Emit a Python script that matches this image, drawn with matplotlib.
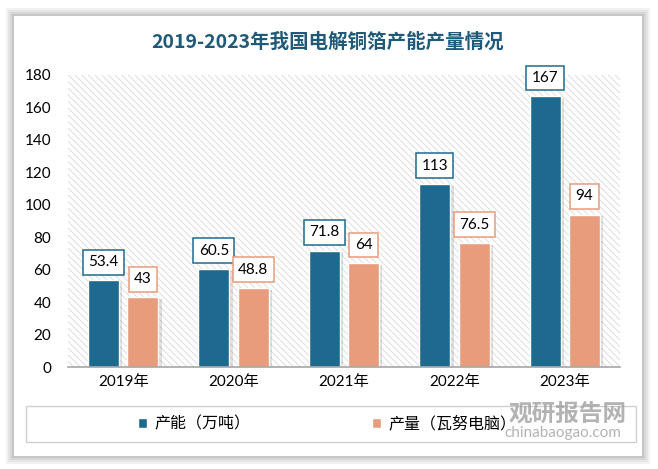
import numpy as np
import matplotlib
matplotlib.use("Agg")
import matplotlib.pyplot as plt
from matplotlib.patches import Rectangle

plt.rcParams['font.family'] = ['Lato', 'Noto Sans CJK SC', 'DejaVu Sans']
plt.rcParams['hatch.linewidth'] = 0.6

years = ["2019年", "2020年", "2021年", "2022年", "2023年"]
capacity = [53.4, 60.5, 71.8, 113, 167]
output = [43, 48.8, 64, 76.5, 94]
cap_labels = ["53.4", "60.5", "71.8", "113", "167"]
out_labels = ["43", "48.8", "64", "76.5", "94"]
series_names = ["产能（万吨）", "产量（瓦努电脑）"]

blue = "#1d6a8e"
orange = "#e79c7c"

fig = plt.figure(figsize=(6.58, 4.69), dpi=100)
fig.patch.set_facecolor("white")

# card with soft shadow
for i, a in enumerate([0.05, 0.05, 0.06, 0.08]):
    pad = (4 - i) * 2
    fig.patches.append(Rectangle(((14 - pad) / 658, 1 - (456 + pad) / 469),
                                 (628 + 2 * pad) / 658, (440 + 2 * pad) / 469,
                                 transform=fig.transFigure, facecolor="black",
                                 edgecolor="none", alpha=a, zorder=-3))
fig.patches.append(Rectangle((14 / 658, 1 - 456 / 469), 628 / 658, 440 / 469,
                             transform=fig.transFigure, facecolor="white",
                             edgecolor="none", zorder=-2))

ax = fig.add_axes([68 / 658, 102 / 469, 552 / 658, 292 / 469])
ax.set_zorder(1)
ax.set_facecolor("none")
ax.add_patch(Rectangle((0, 0), 1, 1, transform=ax.transAxes, facecolor="white",
                       edgecolor="#d8d8d8", hatch="\\\\\\\\\\", linewidth=0, zorder=0))

x = np.arange(len(years))
w = 0.28
off = 0.178

# shadows
ax.bar(x - off + 0.03, capacity, w, bottom=-1.2, color="black", alpha=0.12, zorder=1)
ax.bar(x + off + 0.03, output, w, bottom=-1.2, color="black", alpha=0.12, zorder=1)

ax.bar(x - off, capacity, w, color=blue, edgecolor="white", linewidth=1, zorder=2, label=series_names[0])
ax.bar(x + off, output, w, color=orange, edgecolor="white", linewidth=1, zorder=2, label=series_names[1])

for xi, v, t in zip(x, capacity, cap_labels):
    ax.annotate(t, (xi - off, v), xytext=(0, 13), textcoords="offset points",
                ha="center", va="center", fontsize=11, color="black", zorder=5,
                bbox=dict(boxstyle="square,pad=0.35", fc="white", ec=blue, lw=1.1))
for xi, v, t in zip(x, output, out_labels):
    ax.annotate(t, (xi + off, v), xytext=(0, 13), textcoords="offset points",
                ha="center", va="center", fontsize=11, color="black", zorder=5,
                bbox=dict(boxstyle="square,pad=0.35", fc="white", ec=orange, lw=1.1))

ax.set_xlim(-0.5, 4.5)
ax.set_ylim(0, 180)
ax.set_yticks(np.arange(0, 181, 20))
ax.set_xticks(x)
ax.set_xticklabels(years)
ax.tick_params(axis="y", length=0, pad=12, labelsize=11)
ax.tick_params(axis="x", length=0, pad=6, labelsize=11)
for s in ["top", "right", "left"]:
    ax.spines[s].set_visible(False)
ax.spines["bottom"].set_color("#a6a6a6")
ax.spines["bottom"].set_linewidth(1.2)

fig.text(328 / 658, 1 - 42 / 469, "2019-2023年我国电解铜箔产能产量情况", ha="center", va="center",
         fontsize=14, color="#1f5a78", fontweight="bold",
         family=["Noto Sans CJK SC", "DejaVu Sans"])

# legend frame
fig.patches.append(Rectangle((26 / 658, 1 - 442 / 469), 610 / 658, 36 / 469,
                             transform=fig.transFigure, facecolor="white",
                             edgecolor="#d0d0d0", linewidth=1, zorder=-1))
leg = fig.legend(loc="center", bbox_to_anchor=(327 / 658, 1 - 424 / 469), ncol=2,
                 frameon=False, handlelength=0.6, handleheight=0.6,
                 handletextpad=0.45, columnspacing=7.6,
                 prop={"family": ["Noto Sans CJK SC", "DejaVu Sans"], "size": 11.5})

# watermark
fig.text(568 / 658, 1 - 414 / 469, "观研报告网", ha="center", va="center", fontsize=17,
         fontweight="bold", color="#9a9a9a", alpha=0.75,
         family=["Noto Sans CJK SC", "DejaVu Sans"], zorder=10)
fig.text(563 / 658, 1 - 433 / 469, "chinabaogao.com", ha="center", va="center", fontsize=11,
         color="#9a9a9a", alpha=0.75, zorder=10)

fig.savefig("out.png", dpi=100)
